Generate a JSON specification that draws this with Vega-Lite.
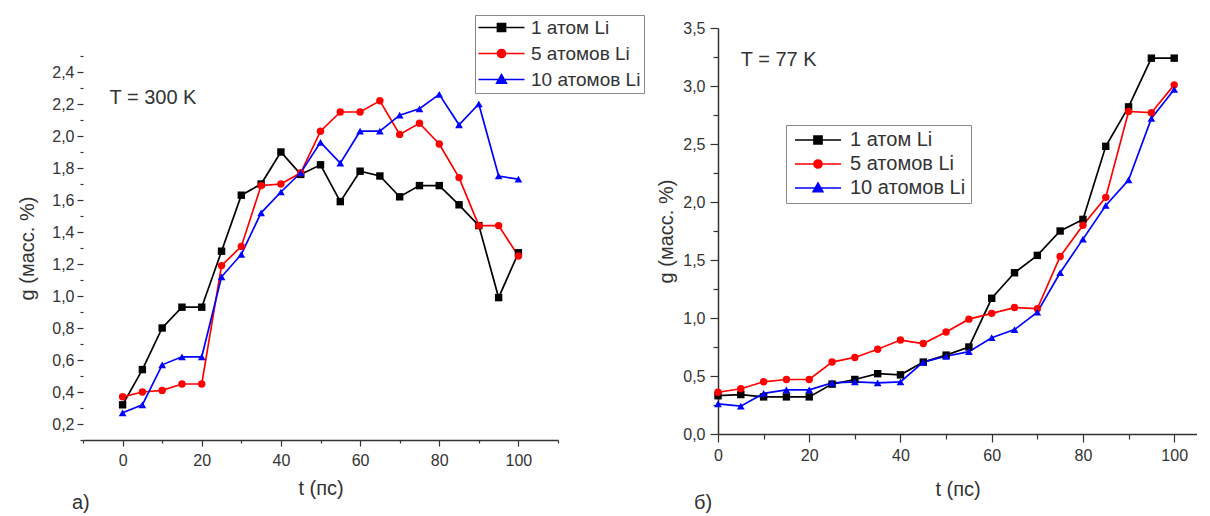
{
  "$schema": "https://vega.github.io/schema/vega-lite/v6.json",
  "padding": {"top": 14, "left": 17, "right": 0, "bottom": 0},
  "background": "white",
  "spacing": 11,
  "config": {
    "font": "Liberation Sans",
    "view": {"stroke": null},
    "axis": {
      "grid": false,
      "domainColor": "#333333",
      "domainWidth": 1.5,
      "tickColor": "#333333",
      "tickWidth": 1.2,
      "labelColor": "#333333",
      "labelFontSize": 16,
      "labelFont": "Liberation Sans",
      "titleFont": "Liberation Sans",
      "titleFontSize": 20,
      "titleFontWeight": "normal",
      "titleColor": "#333333",
      "labelOverlap": false,
      "labelFlush": false,
      "labelBound": false
    },
    "legend": {
      "labelFont": "Liberation Sans",
      "labelColor": "#333333"
    }
  },
  "datasets": {
    "left": [
      {"t": 0, "g": 0.32, "s": "1 атом Li"}, {"t": 5, "g": 0.54, "s": "1 атом Li"}, {"t": 10, "g": 0.80, "s": "1 атом Li"}, {"t": 15, "g": 0.93, "s": "1 атом Li"}, {"t": 20, "g": 0.93, "s": "1 атом Li"}, {"t": 25, "g": 1.28, "s": "1 атом Li"}, {"t": 30, "g": 1.63, "s": "1 атом Li"}, {"t": 35, "g": 1.70, "s": "1 атом Li"}, {"t": 40, "g": 1.90, "s": "1 атом Li"}, {"t": 45, "g": 1.76, "s": "1 атом Li"}, {"t": 50, "g": 1.82, "s": "1 атом Li"}, {"t": 55, "g": 1.59, "s": "1 атом Li"}, {"t": 60, "g": 1.78, "s": "1 атом Li"}, {"t": 65, "g": 1.75, "s": "1 атом Li"}, {"t": 70, "g": 1.62, "s": "1 атом Li"}, {"t": 75, "g": 1.69, "s": "1 атом Li"}, {"t": 80, "g": 1.69, "s": "1 атом Li"}, {"t": 85, "g": 1.57, "s": "1 атом Li"}, {"t": 90, "g": 1.44, "s": "1 атом Li"}, {"t": 95, "g": 0.99, "s": "1 атом Li"}, {"t": 100, "g": 1.27, "s": "1 атом Li"},
      {"t": 0, "g": 0.37, "s": "5 атомов Li"}, {"t": 5, "g": 0.40, "s": "5 атомов Li"}, {"t": 10, "g": 0.41, "s": "5 атомов Li"}, {"t": 15, "g": 0.45, "s": "5 атомов Li"}, {"t": 20, "g": 0.45, "s": "5 атомов Li"}, {"t": 25, "g": 1.19, "s": "5 атомов Li"}, {"t": 30, "g": 1.31, "s": "5 атомов Li"}, {"t": 35, "g": 1.69, "s": "5 атомов Li"}, {"t": 40, "g": 1.70, "s": "5 атомов Li"}, {"t": 45, "g": 1.77, "s": "5 атомов Li"}, {"t": 50, "g": 2.03, "s": "5 атомов Li"}, {"t": 55, "g": 2.15, "s": "5 атомов Li"}, {"t": 60, "g": 2.15, "s": "5 атомов Li"}, {"t": 65, "g": 2.22, "s": "5 атомов Li"}, {"t": 70, "g": 2.01, "s": "5 атомов Li"}, {"t": 75, "g": 2.08, "s": "5 атомов Li"}, {"t": 80, "g": 1.95, "s": "5 атомов Li"}, {"t": 85, "g": 1.74, "s": "5 атомов Li"}, {"t": 90, "g": 1.44, "s": "5 атомов Li"}, {"t": 95, "g": 1.44, "s": "5 атомов Li"}, {"t": 100, "g": 1.25, "s": "5 атомов Li"},
      {"t": 0, "g": 0.27, "s": "10 атомов Li"}, {"t": 5, "g": 0.32, "s": "10 атомов Li"}, {"t": 10, "g": 0.57, "s": "10 атомов Li"}, {"t": 15, "g": 0.62, "s": "10 атомов Li"}, {"t": 20, "g": 0.62, "s": "10 атомов Li"}, {"t": 25, "g": 1.12, "s": "10 атомов Li"}, {"t": 30, "g": 1.26, "s": "10 атомов Li"}, {"t": 35, "g": 1.52, "s": "10 атомов Li"}, {"t": 40, "g": 1.65, "s": "10 атомов Li"}, {"t": 45, "g": 1.77, "s": "10 атомов Li"}, {"t": 50, "g": 1.96, "s": "10 атомов Li"}, {"t": 55, "g": 1.83, "s": "10 атомов Li"}, {"t": 60, "g": 2.03, "s": "10 атомов Li"}, {"t": 65, "g": 2.03, "s": "10 атомов Li"}, {"t": 70, "g": 2.13, "s": "10 атомов Li"}, {"t": 75, "g": 2.17, "s": "10 атомов Li"}, {"t": 80, "g": 2.26, "s": "10 атомов Li"}, {"t": 85, "g": 2.07, "s": "10 атомов Li"}, {"t": 90, "g": 2.20, "s": "10 атомов Li"}, {"t": 95, "g": 1.75, "s": "10 атомов Li"}, {"t": 100, "g": 1.73, "s": "10 атомов Li"}
    ],
    "right": [
      {"t": 0, "g": 0.33, "s": "1 атом Li"}, {"t": 5, "g": 0.34, "s": "1 атом Li"}, {"t": 10, "g": 0.32, "s": "1 атом Li"}, {"t": 15, "g": 0.32, "s": "1 атом Li"}, {"t": 20, "g": 0.32, "s": "1 атом Li"}, {"t": 25, "g": 0.43, "s": "1 атом Li"}, {"t": 30, "g": 0.47, "s": "1 атом Li"}, {"t": 35, "g": 0.52, "s": "1 атом Li"}, {"t": 40, "g": 0.51, "s": "1 атом Li"}, {"t": 45, "g": 0.62, "s": "1 атом Li"}, {"t": 50, "g": 0.68, "s": "1 атом Li"}, {"t": 55, "g": 0.75, "s": "1 атом Li"}, {"t": 60, "g": 1.17, "s": "1 атом Li"}, {"t": 65, "g": 1.39, "s": "1 атом Li"}, {"t": 70, "g": 1.54, "s": "1 атом Li"}, {"t": 75, "g": 1.75, "s": "1 атом Li"}, {"t": 80, "g": 1.85, "s": "1 атом Li"}, {"t": 85, "g": 2.48, "s": "1 атом Li"}, {"t": 90, "g": 2.82, "s": "1 атом Li"}, {"t": 95, "g": 3.24, "s": "1 атом Li"}, {"t": 100, "g": 3.24, "s": "1 атом Li"},
      {"t": 0, "g": 0.36, "s": "5 атомов Li"}, {"t": 5, "g": 0.39, "s": "5 атомов Li"}, {"t": 10, "g": 0.45, "s": "5 атомов Li"}, {"t": 15, "g": 0.47, "s": "5 атомов Li"}, {"t": 20, "g": 0.47, "s": "5 атомов Li"}, {"t": 25, "g": 0.62, "s": "5 атомов Li"}, {"t": 30, "g": 0.66, "s": "5 атомов Li"}, {"t": 35, "g": 0.73, "s": "5 атомов Li"}, {"t": 40, "g": 0.81, "s": "5 атомов Li"}, {"t": 45, "g": 0.78, "s": "5 атомов Li"}, {"t": 50, "g": 0.88, "s": "5 атомов Li"}, {"t": 55, "g": 0.99, "s": "5 атомов Li"}, {"t": 60, "g": 1.04, "s": "5 атомов Li"}, {"t": 65, "g": 1.09, "s": "5 атомов Li"}, {"t": 70, "g": 1.08, "s": "5 атомов Li"}, {"t": 75, "g": 1.53, "s": "5 атомов Li"}, {"t": 80, "g": 1.80, "s": "5 атомов Li"}, {"t": 85, "g": 2.04, "s": "5 атомов Li"}, {"t": 90, "g": 2.78, "s": "5 атомов Li"}, {"t": 95, "g": 2.77, "s": "5 атомов Li"}, {"t": 100, "g": 3.01, "s": "5 атомов Li"},
      {"t": 0, "g": 0.26, "s": "10 атомов Li"}, {"t": 5, "g": 0.24, "s": "10 атомов Li"}, {"t": 10, "g": 0.35, "s": "10 атомов Li"}, {"t": 15, "g": 0.38, "s": "10 атомов Li"}, {"t": 20, "g": 0.38, "s": "10 атомов Li"}, {"t": 25, "g": 0.44, "s": "10 атомов Li"}, {"t": 30, "g": 0.45, "s": "10 атомов Li"}, {"t": 35, "g": 0.44, "s": "10 атомов Li"}, {"t": 40, "g": 0.45, "s": "10 атомов Li"}, {"t": 45, "g": 0.62, "s": "10 атомов Li"}, {"t": 50, "g": 0.67, "s": "10 атомов Li"}, {"t": 55, "g": 0.71, "s": "10 атомов Li"}, {"t": 60, "g": 0.83, "s": "10 атомов Li"}, {"t": 65, "g": 0.90, "s": "10 атомов Li"}, {"t": 70, "g": 1.05, "s": "10 атомов Li"}, {"t": 75, "g": 1.39, "s": "10 атомов Li"}, {"t": 80, "g": 1.68, "s": "10 атомов Li"}, {"t": 85, "g": 1.97, "s": "10 атомов Li"}, {"t": 90, "g": 2.19, "s": "10 атомов Li"}, {"t": 95, "g": 2.72, "s": "10 атомов Li"}, {"t": 100, "g": 2.97, "s": "10 атомов Li"}
    ]
  },
  "hconcat": [
    {
      "width": 475,
      "height": 412,
      "data": {"name": "left"},
      "title": {"text": "а)", "orient": "bottom", "anchor": "start", "frame": "group", "dx": -11, "offset": -5, "fontSize": 20, "fontWeight": "normal", "color": "#333333", "font": "Liberation Sans"},
      "encoding": {
        "x": {
          "field": "t", "type": "quantitative",
          "scale": {"domain": [-10, 110], "nice": false, "zero": false},
          "axis": {
            "title": "t (пс)",
            "values": [-10, 0, 10, 20, 30, 40, 50, 60, 70, 80, 90, 100, 110],
            "labelExpr": "(datum.value % 20 === 0 && datum.value >= 0 && datum.value <= 100) ? datum.label : ''",
            "tickSize": {"condition": {"test": "datum.value % 20 === 0", "value": 6}, "value": 3},
            "labelPadding": 6,
            "titlePadding": 10
          }
        },
        "y": {
          "field": "g", "type": "quantitative",
          "scale": {"domain": [0.1, 2.675], "nice": false, "zero": false},
          "axis": {
            "title": "g (масс. %)",
            "domain": false,
            "titleY": 220,
            "values": [0.1, 0.2, 0.3, 0.4, 0.5, 0.6, 0.7, 0.8, 0.9, 1.0, 1.1, 1.2, 1.3, 1.4, 1.5, 1.6, 1.7, 1.8, 1.9, 2.0, 2.1, 2.2, 2.3, 2.4, 2.5],
            "labelExpr": "abs(datum.value * 5 - round(datum.value * 5)) < 0.001 ? replace(format(datum.value, '.1f'), '.', ',') : ''",
            "tickSize": {"condition": {"test": "abs(datum.value * 5 - round(datum.value * 5)) < 0.001", "value": 6}, "value": 3},
            "labelPadding": 3,
            "titlePadding": 14
          }
        }
      },
      "layer": [
        {
          "data": {"values": [{}]},
          "mark": {"type": "rule", "color": "#333333", "strokeWidth": 1.5},
          "encoding": {"x": {"datum": -10}, "y": {"datum": 0.1}, "y2": {"datum": 2.5}}
        },
        {
          "mark": {"type": "line", "strokeWidth": 1.7},
          "encoding": {
            "color": {
              "field": "s", "type": "nominal",
              "scale": {"domain": ["1 атом Li", "5 атомов Li", "10 атомов Li"], "range": ["#000000", "#ff0000", "#0000ff"]},
              "legend": {
                "orient": "none", "legendX": 392, "legendY": -13,
                "title": null, "direction": "vertical",
                "strokeColor": "#888888", "padding": 3,
                "symbolSize": 64, "labelOffset": 34, "labelFontSize": 19, "rowPadding": 6,
                "symbolStrokeWidth": 1.7, "symbolOpacity": 1,
                "encode": {
                  "symbols": {
                    "update": {
                      "shape": {"signal": "datum.value === '1 атом Li' ? 'M-2.25,0H9.25M2.5,-1H4.5V1H2.5Z' : datum.value === '5 атомов Li' ? 'M-2.25,0H9.25M4.5,0A1,1 0 1,1 2.5,0A1,1 0 1,1 4.5,0Z' : 'M-2.25,0H9.25M3.5,-1.2L4.7,0.9H2.3Z'"},
                      "fill": {"signal": "datum.value === '1 атом Li' ? '#000000' : datum.value === '5 атомов Li' ? '#ff0000' : '#0000ff'"},
                      "stroke": {"signal": "datum.value === '1 атом Li' ? '#000000' : datum.value === '5 атомов Li' ? '#ff0000' : '#0000ff'"},
                      "strokeWidth": {"value": 1.7}
                    }
                  }
                }
              }
            }
          }
        },
        {
          "transform": [{"filter": "datum.s === '1 атом Li'"}],
          "mark": {"type": "point", "filled": true, "opacity": 1, "size": 55, "shape": "square", "color": "#000000"}
        },
        {
          "transform": [{"filter": "datum.s === '5 атомов Li'"}],
          "mark": {"type": "point", "filled": true, "opacity": 1, "size": 55, "shape": "circle", "color": "#ff0000"}
        },
        {
          "transform": [{"filter": "datum.s === '10 атомов Li'"}],
          "mark": {"type": "point", "filled": true, "opacity": 1, "size": 60, "shape": "triangle-up", "color": "#0000ff"}
        },
        {
          "data": {"values": [{"t": -3.3, "g": 2.24, "label": "T = 300 K"}]},
          "mark": {"type": "text", "align": "left", "baseline": "middle", "fontSize": 20, "color": "#333333", "font": "Liberation Sans"},
          "encoding": {"text": {"field": "label", "type": "nominal"}}
        }
      ]
    },
    {
      "width": 479,
      "height": 406,
      "data": {"name": "right"},
      "title": {"text": "б)", "orient": "bottom", "anchor": "start", "frame": "group", "dx": -24, "offset": -6, "fontSize": 20, "fontWeight": "normal", "color": "#333333", "font": "Liberation Sans"},
      "encoding": {
        "x": {
          "field": "t", "type": "quantitative",
          "scale": {"domain": [0, 105], "nice": false, "zero": false},
          "axis": {
            "title": "t (пс)",
            "values": [0, 10, 20, 30, 40, 50, 60, 70, 80, 90, 100],
            "labelExpr": "datum.value % 20 === 0 ? datum.label : ''",
            "tickSize": {"condition": {"test": "datum.value % 20 === 0", "value": 8}, "value": 5},
            "labelPadding": 5,
            "titlePadding": 16
          }
        },
        "y": {
          "field": "g", "type": "quantitative",
          "scale": {"domain": [0, 3.5], "nice": false, "zero": false},
          "axis": {
            "title": "g (масс. %)",
            "values": [0, 0.25, 0.5, 0.75, 1.0, 1.25, 1.5, 1.75, 2.0, 2.25, 2.5, 2.75, 3.0, 3.25, 3.5],
            "labelExpr": "abs(datum.value * 2 - round(datum.value * 2)) < 0.001 ? replace(format(datum.value, '.1f'), '.', ',') : ''",
            "tickSize": {"condition": {"test": "abs(datum.value * 2 - round(datum.value * 2)) < 0.001", "value": 8}, "value": 5},
            "labelPadding": 5,
            "titlePadding": 6
          }
        }
      },
      "layer": [
        {
          "mark": {"type": "line", "strokeWidth": 1.7},
          "encoding": {
            "color": {
              "field": "s", "type": "nominal",
              "scale": {"domain": ["1 атом Li", "5 атомов Li", "10 атомов Li"], "range": ["#000000", "#ff0000", "#0000ff"]},
              "legend": {
                "orient": "none", "legendX": 68, "legendY": 97,
                "title": null, "direction": "vertical",
                "strokeColor": "#888888", "padding": 5,
                "symbolSize": 64, "labelOffset": 39, "labelFontSize": 20, "rowPadding": 4,
                "symbolStrokeWidth": 1.7, "symbolOpacity": 1,
                "encode": {
                  "symbols": {
                    "update": {
                      "shape": {"signal": "datum.value === '1 атом Li' ? 'M-1.5,0H10M3.25,-1H5.25V1H3.25Z' : datum.value === '5 атомов Li' ? 'M-1.5,0H10M5.25,0A1,1 0 1,1 3.25,0A1,1 0 1,1 5.25,0Z' : 'M-1.5,0H10M4.25,-1.2L5.45,0.9H3.05Z'"},
                      "fill": {"signal": "datum.value === '1 атом Li' ? '#000000' : datum.value === '5 атомов Li' ? '#ff0000' : '#0000ff'"},
                      "stroke": {"signal": "datum.value === '1 атом Li' ? '#000000' : datum.value === '5 атомов Li' ? '#ff0000' : '#0000ff'"},
                      "strokeWidth": {"value": 1.7}
                    }
                  }
                }
              }
            }
          }
        },
        {
          "transform": [{"filter": "datum.s === '1 атом Li'"}],
          "mark": {"type": "point", "filled": true, "opacity": 1, "size": 55, "shape": "square", "color": "#000000"}
        },
        {
          "transform": [{"filter": "datum.s === '5 атомов Li'"}],
          "mark": {"type": "point", "filled": true, "opacity": 1, "size": 55, "shape": "circle", "color": "#ff0000"}
        },
        {
          "transform": [{"filter": "datum.s === '10 атомов Li'"}],
          "mark": {"type": "point", "filled": true, "opacity": 1, "size": 60, "shape": "triangle-up", "color": "#0000ff"}
        },
        {
          "data": {"values": [{"t": 5.0, "g": 3.22, "label": "T = 77 K"}]},
          "mark": {"type": "text", "align": "left", "baseline": "middle", "fontSize": 20, "color": "#333333", "font": "Liberation Sans"},
          "encoding": {"text": {"field": "label", "type": "nominal"}}
        }
      ]
    }
  ],
  "resolve": {
    "scale": {"x": "independent", "y": "independent", "color": "independent"},
    "legend": {"color": "independent"}
  }
}
